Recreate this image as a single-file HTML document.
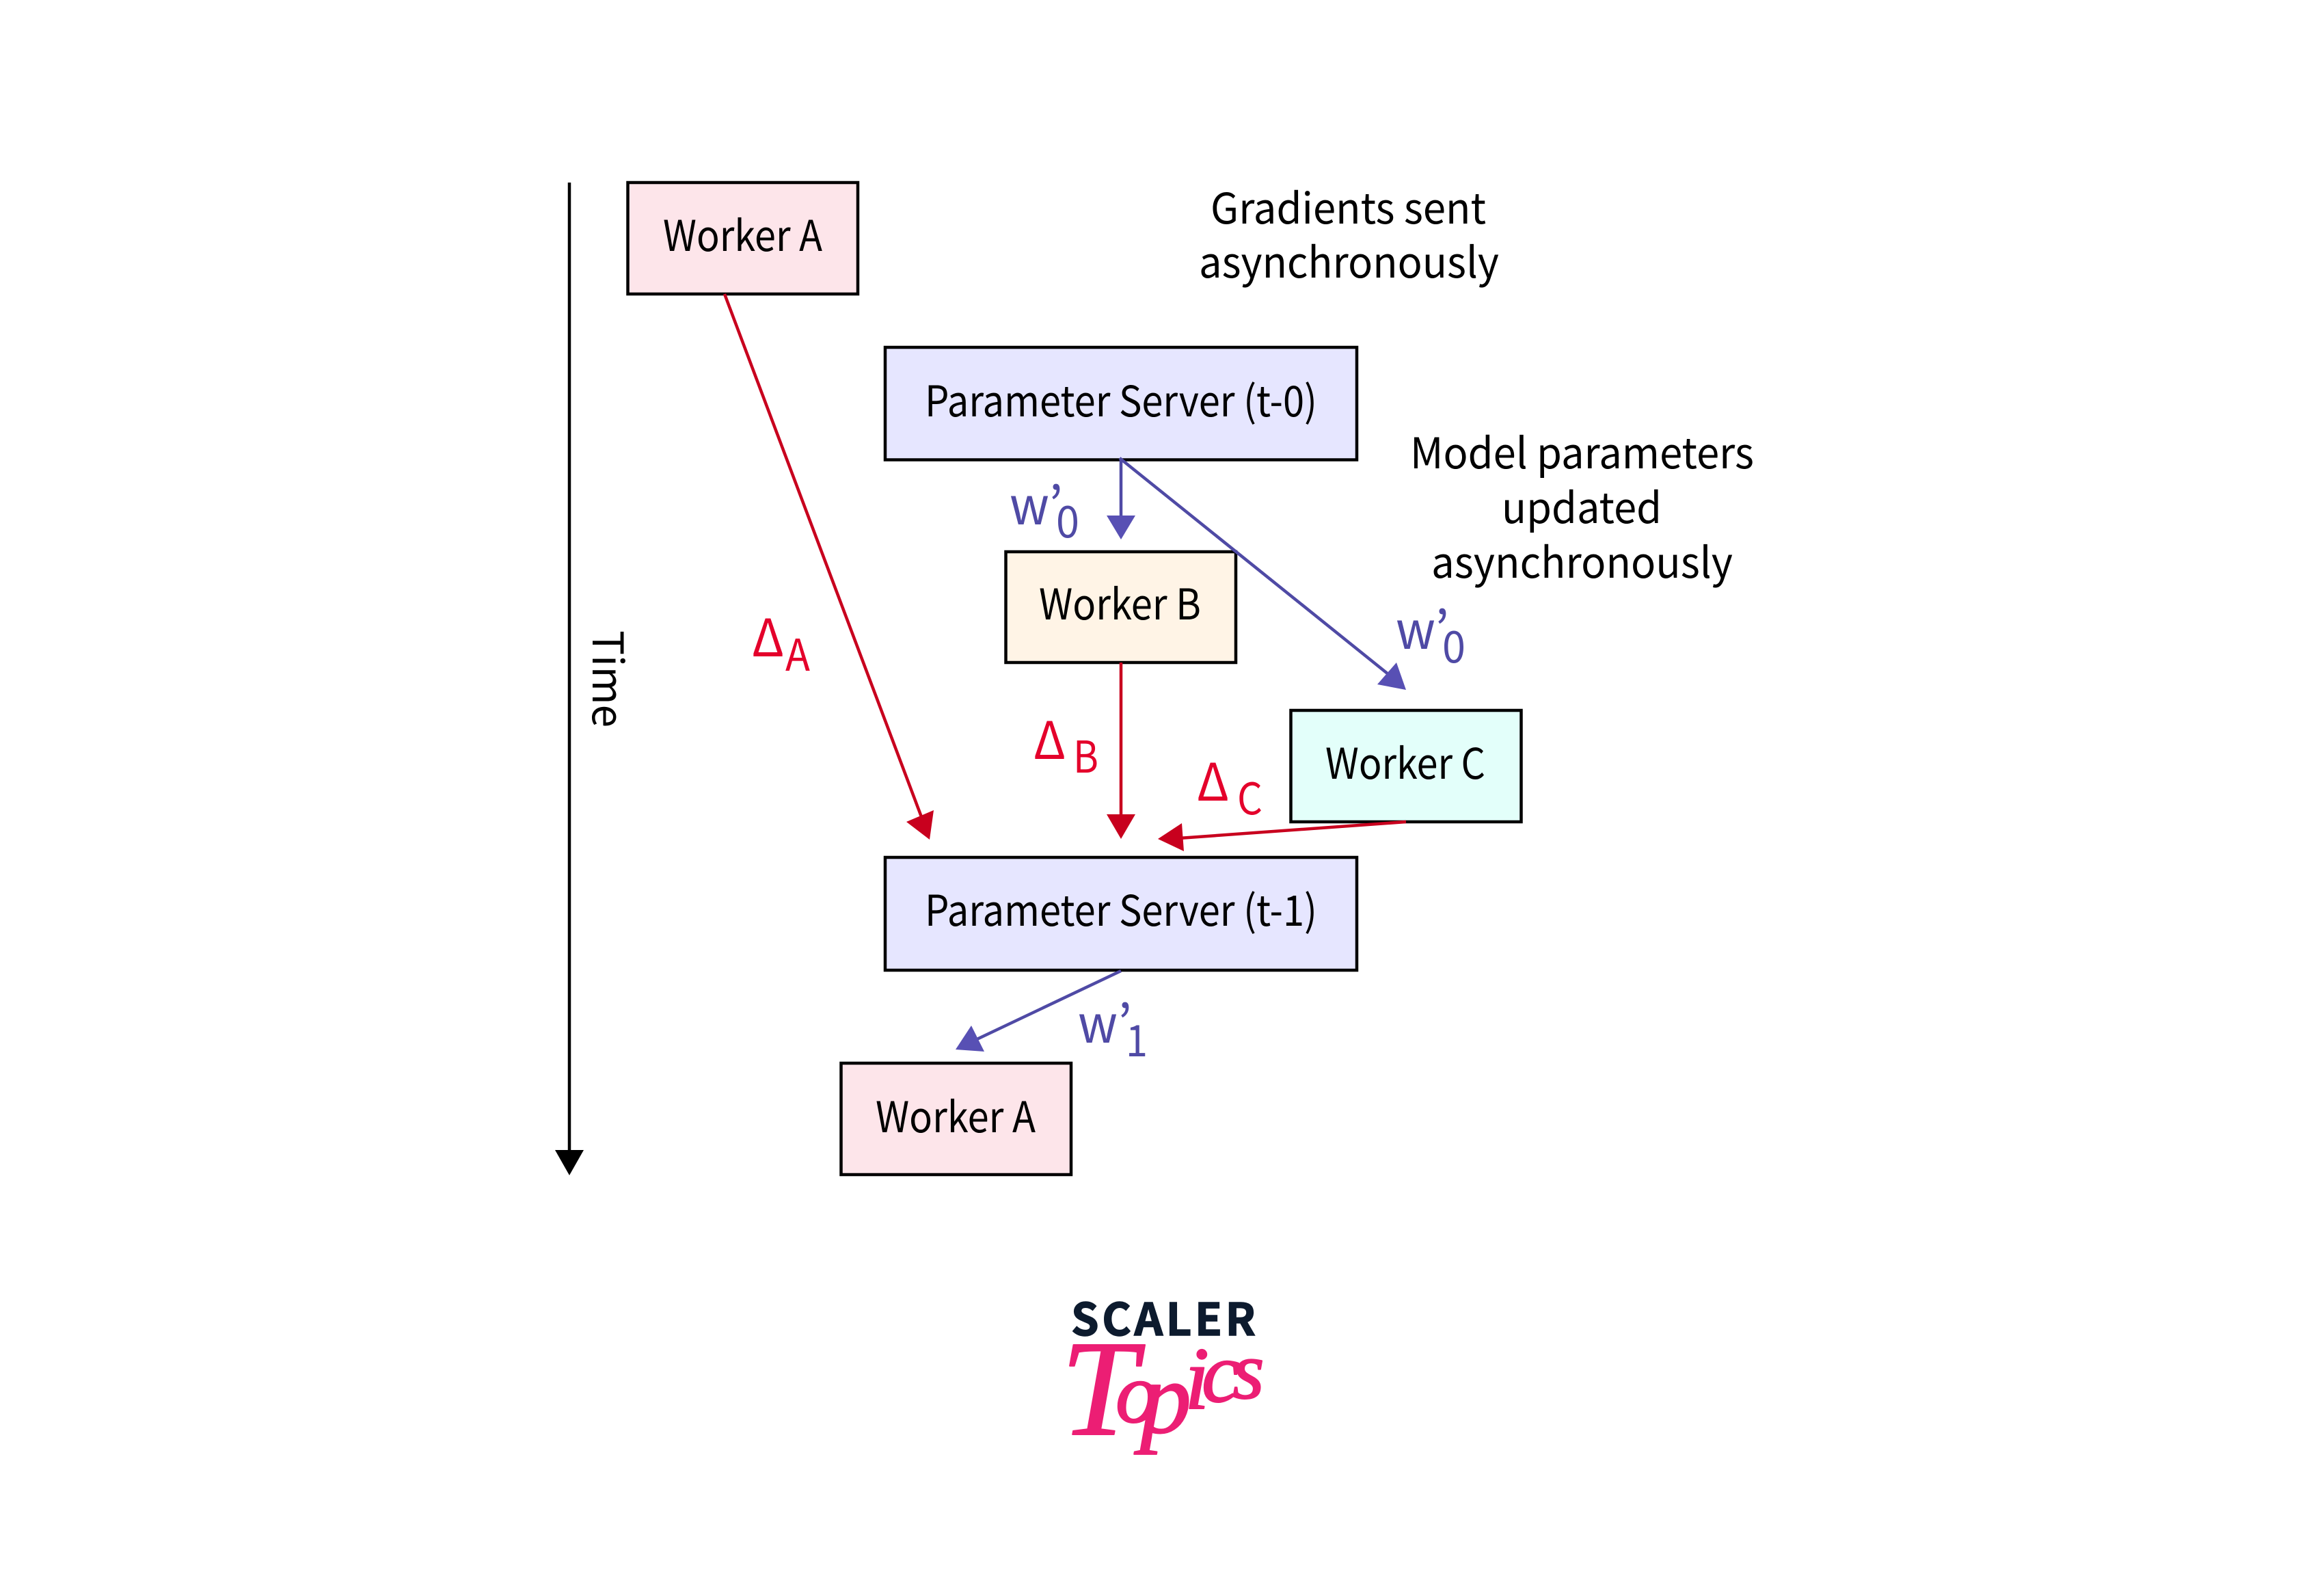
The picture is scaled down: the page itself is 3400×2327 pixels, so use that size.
<!DOCTYPE html>
<html lang="en">
<head>
<meta charset="utf-8">
<title>Asynchronous parameter server</title>
<style>
html,body{margin:0;padding:0;background:#fff;width:3400px;height:2327px;overflow:hidden}
svg{display:block}
text{font-family:"Noto Sans CJK JP","Liberation Sans",sans-serif;fill:#000}
.t{font-size:62px}
.b{fill:#4f4aa5;font-size:76px}
.bs{fill:#4f4aa5;font-size:64px}
.r{fill:#e4002b;font-size:76px}
.rs{fill:#e4002b;font-size:64px}
</style>
</head>
<body>
<svg xmlns="http://www.w3.org/2000/svg" width="3400" height="2327" viewBox="0 0 3400 2327">
<rect width="3400" height="2327" fill="#fff"/>

<!-- time axis -->
<line x1="833" y1="267" x2="833" y2="1690" stroke="#000" stroke-width="4.5"/>
<polygon points="812,1682 854,1682 833,1719" fill="#000"/>
<text class="t" transform="translate(867,922) rotate(90)" textLength="142" lengthAdjust="spacingAndGlyphs">Time</text>

<!-- boxes -->
<g stroke="#000" stroke-width="4.5">
<rect x="918.5" y="267" width="336.5" height="163" fill="#fde5ea"/>
<rect x="1295" y="508" width="690" height="164.5" fill="#e6e6ff"/>
<rect x="1471.5" y="807" width="336.5" height="162" fill="#fff4e6"/>
<rect x="1888.5" y="1039" width="337" height="163" fill="#e3fffa"/>
<rect x="1295" y="1254" width="690" height="165" fill="#e6e6ff"/>
<rect x="1230.5" y="1555" width="336.5" height="163" fill="#fde5ea"/>
</g>

<!-- blue connectors -->
<g stroke="#4f4aa5" stroke-width="4.5" fill="none">
<line x1="1640" y1="672" x2="1640" y2="760"/>
<line x1="1638" y1="670" x2="2036" y2="990"/>
<line x1="1640" y1="1420" x2="1425" y2="1522"/>
</g>
<g fill="#5850b4">
<polygon points="1619,754 1661,754 1640,789"/>
<polygon points="2043,969 2015,1001 2057,1009"/>
<polygon points="1421,1500 1440,1538 1398,1535"/>
</g>

<!-- red connectors -->
<g stroke="#c8001e" stroke-width="4.5" fill="none">
<line x1="1060" y1="430" x2="1350" y2="1200"/>
<line x1="1640" y1="969" x2="1640" y2="1195"/>
<line x1="2057" y1="1202" x2="1725" y2="1226"/>
</g>
<g fill="#c8001e">
<polygon points="1366,1185 1326,1202 1360,1228"/>
<polygon points="1619,1191 1661,1191 1640,1227"/>
<polygon points="1729,1204 1732,1245 1694,1227"/>
</g>

<!-- box labels -->
<text class="t" x="970" y="367" textLength="233" lengthAdjust="spacingAndGlyphs">Worker A</text>
<text class="t" x="1353" y="609" textLength="574" lengthAdjust="spacingAndGlyphs">Parameter Server (t-0)</text>
<text class="t" x="1520" y="906" textLength="237" lengthAdjust="spacingAndGlyphs">Worker B</text>
<text class="t" x="1939" y="1139" textLength="234" lengthAdjust="spacingAndGlyphs">Worker C</text>
<text class="t" x="1353" y="1354" textLength="574" lengthAdjust="spacingAndGlyphs">Parameter Server (t-1)</text>
<text class="t" x="1281" y="1656" textLength="234" lengthAdjust="spacingAndGlyphs">Worker A</text>

<!-- annotations -->
<text class="t" x="1771" y="327" textLength="403" lengthAdjust="spacingAndGlyphs">Gradients sent</text>
<text class="t" x="1754" y="406" textLength="439" lengthAdjust="spacingAndGlyphs">asynchronously</text>
<text class="t" x="2063" y="685" textLength="503" lengthAdjust="spacingAndGlyphs">Model parameters</text>
<text class="t" x="2197" y="765" textLength="234" lengthAdjust="spacingAndGlyphs">updated</text>
<text class="t" x="2094" y="845" textLength="441" lengthAdjust="spacingAndGlyphs">asynchronously</text>

<!-- w labels -->
<text class="b" x="1477" y="767" textLength="58" lengthAdjust="spacingAndGlyphs">w</text>
<text class="b" x="1534" y="767">’</text>
<text class="bs" x="1545" y="786" textLength="34" lengthAdjust="spacingAndGlyphs">0</text>
<text class="b" x="2042" y="949" textLength="58" lengthAdjust="spacingAndGlyphs">w</text>
<text class="b" x="2099" y="949">’</text>
<text class="bs" x="2110" y="969" textLength="34" lengthAdjust="spacingAndGlyphs">0</text>
<text class="b" x="1577" y="1525" textLength="58" lengthAdjust="spacingAndGlyphs">w</text>
<text class="b" x="1635" y="1525">’</text>
<text class="bs" x="1647" y="1545" textLength="32" lengthAdjust="spacingAndGlyphs">1</text>

<!-- delta labels -->
<text class="r" x="1100" y="960" textLength="47" lengthAdjust="spacingAndGlyphs">Δ</text>
<text class="rs" x="1149" y="981" textLength="36" lengthAdjust="spacingAndGlyphs">A</text>
<text class="r" x="1512" y="1110" textLength="47" lengthAdjust="spacingAndGlyphs">Δ</text>
<text class="rs" x="1570" y="1130" textLength="37" lengthAdjust="spacingAndGlyphs">B</text>
<text class="r" x="1751" y="1171" textLength="47" lengthAdjust="spacingAndGlyphs">Δ</text>
<text class="rs" x="1810" y="1191" textLength="37" lengthAdjust="spacingAndGlyphs">C</text>

<!-- logo -->
<text x="1567" y="1953" font-size="65" font-weight="700" stroke="#0d1b2e" stroke-width="1.5" style="fill:#0d1b2e" textLength="270" lengthAdjust="spacing">SCALER</text>
<text font-style="italic" stroke="#ec1e74" stroke-width="2" stroke-linejoin="round" style="font-family:'Liberation Serif',serif;fill:#ec1e74"><tspan x="1552" y="2098" font-size="200">T</tspan><tspan x="1632" y="2080" font-size="125">o</tspan><tspan x="1668" y="2095" font-size="150">p</tspan><tspan x="1733" y="2060" font-size="130">i</tspan><tspan x="1758" y="2050" font-size="125">c</tspan><tspan x="1803" y="2045" font-size="120">s</tspan></text>
</svg>
</body>
</html>
